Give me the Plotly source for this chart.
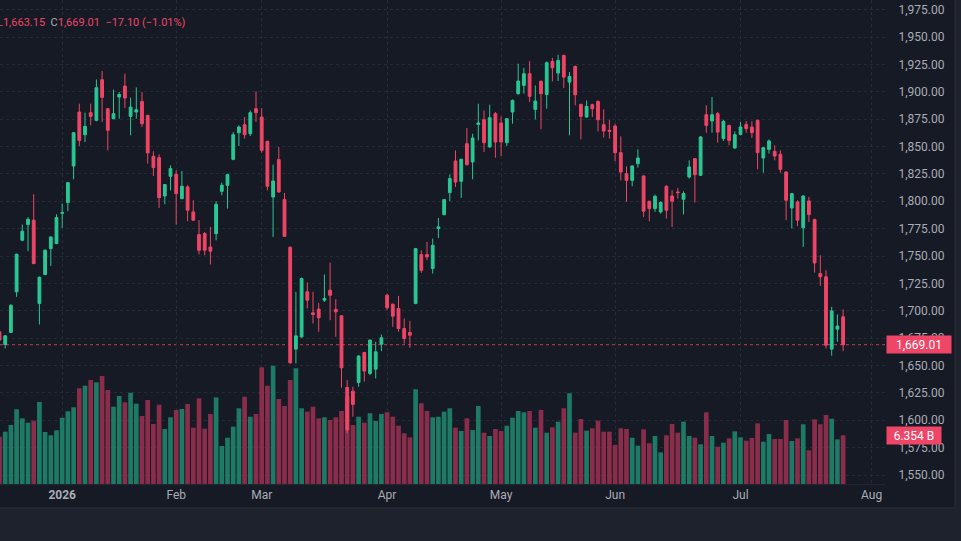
import plotly.graph_objects as go

# ---------------- data ----------------
bar_index = list(range(149))

open_ = [1680.8,1669.2,1680.2,1717.3,1764.4,1778.7,1782.7,1706.6,1733.1,1756.8,
         1761.4,1789.0,1798.8,1832.2,1881.5,1860.8,1880.9,1873.9,1911.0,1884.5,
         1875.4,1895.2,1905.2,1877.5,1881.5,1891.2,1878.4,1841.0,1839.8,1804.8,
         1822.8,1824.6,1802.4,1813.1,1790.3,1769.6,1770.5,1758.3,1770.5,1809.1,
         1814.6,1838.3,1862.6,1869.9,1861.7,1884.5,1876.9,1854.7,1803.9,1838.0,
         1801.5,1758.0,1665.0,1676.2,1717.3,1698.1,1701.5,1709.7,1718.8,1701.2,
         1695.4,1630.0,1626.6,1634.6,1661.9,1642.8,1646.7,1669.5,1714.2,1706.0,
         1702.1,1683.8,1680.2,1706.6,1751.3,1751.3,1738.6,1775.1,1787.8,1807.9,
         1836.8,1818.2,1852.6,1835.9,1870.2,1874.5,1849.6,1880.0,1871.5,1853.5,
         1881.5,1898.2,1905.8,1916.5,1883.9,1909.5,1897.6,1927.7,1917.1,1933.2,
         1908.8,1923.1,1888.5,1876.9,1888.2,1891.2,1869.9,1864.8,1868.7,1844.4,
         1825.2,1819.1,1834.3,1823.1,1800.0,1793.3,1790.3,1813.7,1804.8,1808.5,
         1801.8,1822.2,1838.9,1823.7,1879.0,1873.3,1880.0,1857.2,1869.3,1848.6,
         1861.1,1870.2,1867.8,1873.9,1839.5,1847.4,1845.6,1842.9,1826.7,1793.9,
         1799.4,1775.7,1800.3,1783.3,1734.0,1731.0,1665.0,1683.2,1694.5]

high = [1683.0,1677.7,1705.7,1752.2,1778.7,1785.4,1806.4,1731.3,1755.9,1767.9,
        1788.1,1797.9,1817.6,1863.2,1889.1,1880.9,1889.1,1911.3,1918.9,1885.1,
        1901.9,1899.7,1916.5,1894.6,1904.0,1899.7,1879.0,1845.6,1842.9,1815.8,
        1832.8,1828.3,1827.7,1814.6,1800.9,1782.7,1772.0,1776.6,1800.0,1817.0,
        1825.2,1863.2,1869.3,1876.9,1883.0,1900.3,1885.1,1855.3,1833.4,1849.6,
        1807.6,1758.6,1717.3,1730.3,1725.8,1717.3,1707.2,1733.1,1744.0,1710.6,
        1696.0,1636.7,1630.6,1659.5,1662.5,1673.8,1671.7,1678.3,1715.7,1706.6,
        1713.6,1692.9,1690.8,1757.4,1755.3,1762.9,1765.9,1784.8,1802.1,1824.6,
        1846.5,1838.9,1866.9,1861.7,1889.1,1883.0,1888.2,1881.5,1877.5,1876.0,
        1893.0,1925.6,1921.9,1928.0,1905.8,1910.4,1927.7,1931.0,1933.8,1933.8,
        1918.0,1924.0,1889.1,1892.1,1889.1,1892.1,1883.9,1874.5,1870.8,1859.3,
        1831.9,1832.8,1847.4,1823.7,1800.6,1806.1,1800.0,1814.6,1810.0,1812.1,
        1809.1,1837.4,1839.5,1859.6,1887.6,1895.2,1881.5,1874.5,1869.9,1863.8,
        1872.4,1873.3,1873.0,1874.5,1849.6,1856.5,1851.1,1846.5,1827.4,1807.6,
        1800.9,1805.5,1803.9,1784.2,1750.7,1737.0,1703.6,1696.6,1701.2]

low = [1671.0,1665.6,1679.6,1712.7,1763.5,1754.4,1742.5,1687.5,1732.5,1741.0,
       1760.8,1775.7,1790.9,1820.1,1850.5,1854.1,1869.3,1873.0,1872.4,1846.5,
       1874.8,1875.4,1885.1,1860.2,1875.4,1867.8,1834.3,1823.1,1793.9,1797.3,
       1810.0,1778.7,1801.8,1781.8,1782.0,1751.4,1750.7,1742.2,1764.4,1805.5,
       1793.3,1837.4,1850.5,1857.2,1859.6,1872.4,1844.4,1810.0,1767.4,1807.6,
       1767.4,1651.6,1651.9,1675.3,1702.1,1688.4,1680.8,1708.1,1691.4,1676.2,
       1629.7,1588.0,1603.2,1630.6,1635.2,1641.2,1638.2,1663.1,1700.5,1685.3,
       1680.8,1670.1,1666.2,1706.0,1734.6,1746.2,1734.0,1766.5,1787.2,1800.0,
       1813.1,1803.0,1832.8,1820.1,1855.6,1845.0,1849.0,1839.8,1841.3,1850.5,
       1870.8,1897.3,1898.2,1890.6,1874.8,1865.7,1884.5,1909.5,1909.8,1903.4,
       1860.2,1887.6,1856.5,1876.3,1876.9,1863.8,1858.1,1857.2,1836.5,1819.1,
       1799.4,1813.7,1830.7,1785.7,1781.7,1790.3,1788.7,1784.2,1776.6,1802.4,
       1788.1,1820.7,1798.8,1823.1,1862.6,1862.6,1853.5,1855.0,1851.1,1848.0,
       1860.2,1862.6,1857.8,1829.2,1826.1,1843.5,1837.4,1826.1,1782.7,1775.1,
       1777.2,1758.3,1781.1,1734.9,1722.7,1665.6,1658.9,1671.7,1663.15]

close = [1673.2,1677.1,1705.1,1751.6,1772.6,1783.6,1743.1,1730.6,1755.3,1767.4,
         1785.1,1789.6,1817.0,1862.6,1855.6,1868.4,1877.5,1903.7,1894.9,1864.8,
         1880.0,1897.6,1894.3,1886.0,1883.6,1870.8,1844.1,1830.7,1803.3,1815.2,
         1829.8,1807.0,1813.7,1791.8,1782.7,1755.3,1755.3,1754.4,1797.2,1814.6,
         1824.3,1860.8,1867.8,1860.8,1880.9,1880.9,1846.5,1813.7,1818.5,1808.5,
         1768.0,1652.5,1677.1,1729.4,1709.7,1696.6,1693.6,1711.2,1714.2,1699.0,
         1647.9,1591.1,1614.5,1658.6,1644.9,1673.2,1662.5,1675.3,1702.7,1695.1,
         1683.8,1674.7,1677.7,1756.8,1737.0,1749.2,1759.8,1776.6,1801.5,1820.7,
         1817.6,1838.3,1833.4,1857.8,1871.5,1853.5,1876.3,1854.1,1854.1,1875.4,
         1892.1,1909.8,1916.5,1895.8,1891.5,1898.2,1926.5,1921.9,1928.6,1913.4,
         1914.0,1897.3,1877.5,1886.7,1884.5,1874.5,1864.1,1863.8,1844.4,1826.7,
         1819.1,1832.2,1839.5,1790.9,1793.3,1804.5,1798.8,1791.8,1800.0,1807.9,
         1807.0,1831.3,1824.3,1858.7,1869.3,1879.0,1863.2,1873.0,1855.6,1860.8,
         1867.8,1866.3,1862.6,1844.4,1848.9,1855.0,1841.3,1829.2,1800.9,1807.0,
         1782.7,1804.8,1787.8,1743.7,1731.0,1668.6,1699.9,1686.11,1669.01]

volume_b = [6.17,6.83,7.70,9.75,8.57,8.00,8.26,10.70,6.79,6.36,
            7.01,8.65,9.49,10.01,12.49,12.83,13.57,13.27,14.09,12.27,
            10.09,11.48,10.66,11.91,10.48,8.87,10.96,7.83,10.35,7.18,
            8.70,9.66,9.79,10.44,7.35,11.18,7.22,9.14,11.31,4.96,
            6.04,7.48,9.88,11.39,8.78,9.14,15.23,12.83,15.44,11.09,
            10.18,13.57,15.10,9.88,9.44,10.09,8.57,8.70,8.35,8.70,
            9.53,11.48,7.70,8.78,8.00,9.23,8.22,9.14,9.36,8.78,
            7.61,6.62,6.09,12.36,10.53,9.53,8.70,8.78,9.44,9.88,
            7.35,6.92,8.57,7.05,10.18,6.69,6.26,7.18,6.92,7.61,
            8.65,9.53,9.36,9.53,7.35,9.66,6.69,7.40,8.13,9.88,
            11.84,6.69,8.48,6.96,7.27,8.26,6.83,6.83,5.09,7.27,
            7.18,6.04,5.00,7.13,5.31,6.26,4.13,6.35,7.83,6.70,
            8.13,6.26,6.04,5.18,9.35,6.26,4.87,5.39,5.96,6.87,
            6.09,5.65,6.00,7.92,5.52,6.52,5.87,5.87,8.35,5.61,
            5.96,7.79,4.40,8.44,7.79,9.00,8.52,5.83,6.354]

tick_positions = [11, 31, 46, 68, 88, 108, 130, 153]
tick_labels = ["<b>2026</b>", "Feb", "Mar", "Apr", "May", "Jun", "Jul", "Aug"]

last_close = 1669.01
last_volume = 6.354

# ---------------- styles ----------------
BG = "#161a25"
OUTER = "#1e222d"
GRID = "#262b38"
UP = "#29c794"
DOWN = "#ef4566"
VOL_UP = "#1d7a64"
VOL_DOWN = "#8a2d4b"
TXT = "#a9acb5"
FONT = "Roboto"

vol_colors = [VOL_UP if c >= o else VOL_DOWN for o, c in zip(open_, close)]

W, H = 961, 541
M_L, M_R, M_T, M_B = 0, 76, 0, 57
plot_w = W - M_L - M_R
plot_h = H - M_T - M_B

fig = go.Figure()

fig.add_trace(go.Bar(
    x=bar_index, y=volume_b, yaxis="y",
    marker=dict(color=vol_colors, line=dict(width=0)),
    hoverinfo="skip", showlegend=False,
))

fig.add_trace(go.Candlestick(
    x=bar_index, open=open_, high=high, low=low, close=close,
    yaxis="y2", whiskerwidth=0,
    increasing=dict(line=dict(color=UP, width=1), fillcolor=UP),
    decreasing=dict(line=dict(color=DOWN, width=1), fillcolor=DOWN),
    hoverinfo="skip", showlegend=False,
))

fig.update_layout(
    width=W, height=H,
    margin=dict(l=M_L, r=M_R, t=M_T, b=M_B),
    paper_bgcolor=BG, plot_bgcolor=BG,
    font=dict(family=FONT, size=12, color=TXT),
    showlegend=False,
    bargap=0.18,
    xaxis=dict(
        range=[0.088, 155.35],
        tickmode="array", tickvals=tick_positions, ticktext=tick_labels,
        showgrid=True, gridcolor=GRID, griddash="dot", gridwidth=1,
        zeroline=False, ticks="", showline=True, linecolor="#232733",
        tickfont=dict(size=12, color=TXT, family=FONT),
        rangeslider=dict(visible=False),
    ),
    yaxis=dict(
        range=[0, 63.15], visible=False, showgrid=False, zeroline=False,
        fixedrange=True,
    ),
    yaxis2=dict(
        overlaying="y", side="right",
        range=[1541.8, 1983.8],
        tickmode="linear", tick0=1550, dtick=25, tickformat=",.2f",
        showgrid=True, gridcolor=GRID, griddash="dot", gridwidth=1,
        zeroline=False, ticks="outside", ticklen=10, tickcolor=BG,
        tickfont=dict(size=12, color=TXT, family=FONT),
    ),
)

# current price dotted line
fig.add_shape(type="line", xref="paper", x0=0, x1=1, yref="y2",
              y0=last_close, y1=last_close,
              line=dict(color=DOWN, width=1, dash="dot"), layer="below", opacity=0.8)

# outer frame (lighter page background around widget)
fig.add_shape(type="rect", xref="paper", yref="paper",
              x0=-0.01, x1=1.1, y0=-(H - plot_h) / plot_h - 0.01, y1=-(508 - plot_h) / plot_h,
              fillcolor=OUTER, line=dict(width=0), layer="below")
fig.add_shape(type="rect", xref="paper", yref="paper",
              x0=955 / plot_w, x1=1.1, y0=-0.2, y1=1.01,
              fillcolor=OUTER, line=dict(width=0), layer="below")
fig.add_shape(type="line", xref="paper", yref="paper",
              x0=0, x1=955 / plot_w, y0=-(508 - plot_h) / plot_h, y1=-(508 - plot_h) / plot_h,
              line=dict(color="#2a2e39", width=1))
fig.add_shape(type="line", xref="paper", yref="paper",
              x0=955 / plot_w, x1=955 / plot_w, y0=-(508 - plot_h) / plot_h, y1=1.01,
              line=dict(color="#2a2e39", width=1))

# price & volume labels on the scale
fig.add_annotation(xref="paper", x=1, yref="y2", y=last_close, xanchor="left", yanchor="middle",
                   text=f"{last_close:,.2f}", showarrow=False, xshift=1,
                   bgcolor=DOWN, font=dict(color="#ffffff", size=12, family=FONT),
                   width=60, height=13, borderpad=2, align="center")
fig.add_annotation(xref="paper", x=1, yref="y", y=last_volume, xanchor="left", yanchor="middle",
                   text=f"{last_volume:.3f} B", showarrow=False, xshift=1,
                   bgcolor=DOWN, font=dict(color="#ffffff", size=12, family=FONT),
                   width=50, height=13, borderpad=2, align="center")

# legend header (OHLC line, partially clipped at the left edge)
prev_close = close[-2]
chg = last_close - prev_close
pct = chg / prev_close * 100
header = (f"<span style='color:{DOWN}'>L{low[-1]:,.2f}</span>  "
          f"<span style='color:{TXT}'>C</span><span style='color:{DOWN}'>{last_close:,.2f}</span>  "
          f"<span style='color:{DOWN}'>−{abs(chg):.2f} (−{abs(pct):.2f}%)</span>")
fig.add_annotation(xref="paper", x=0, yref="paper", y=1, xanchor="left", yanchor="middle",
                   xshift=-5, yshift=-22, text=header, showarrow=False,
                   font=dict(size=11, family=FONT, color=DOWN))

fig.write_html("out.html")
